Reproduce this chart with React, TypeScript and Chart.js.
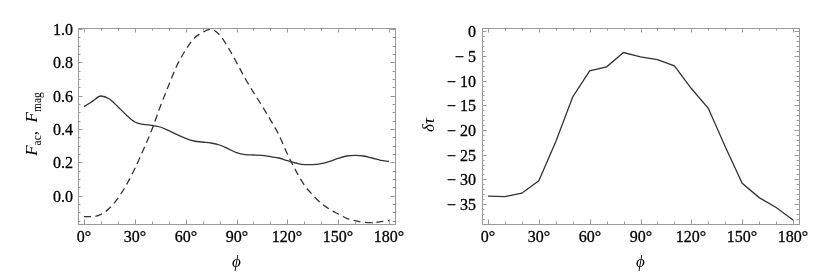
import React, { useEffect, useRef } from "react";
import { Chart, registerables } from "chart.js";
Chart.register(...registerables);

// ---------- data ----------
const phiFine = [0,5,10,15,20,25,30,35,40,45,50,55,60,65,70,75,80,85,90,95,100,105,110,115,120,125,130,135,140,145,150,155,160,165,170,175,180];
const fAcSolid = [0.534,0.566,0.598,0.58,0.534,0.484,0.442,0.428,0.422,0.412,0.39,0.366,0.344,0.328,0.322,0.316,0.304,0.282,0.258,0.246,0.244,0.242,0.234,0.226,0.21,0.196,0.186,0.186,0.192,0.206,0.224,0.238,0.242,0.238,0.226,0.212,0.206];
const fMagDashed = [-0.126,-0.126,-0.112,-0.076,-0.016,0.064,0.162,0.274,0.394,0.534,0.662,0.784,0.874,0.944,0.98,0.998,0.965,0.89,0.8,0.705,0.62,0.54,0.455,0.365,0.25,0.15,0.064,0.004,-0.046,-0.082,-0.11,-0.136,-0.15,-0.16,-0.162,-0.156,-0.15];

const phiCoarse = [0,10,20,30,40,50,60,70,80,90,100,110,120,130,140,150,160,170,180];
const deltaTau = [-33.4,-33.5,-32.8,-30.3,-22.4,-13.3,-8.0,-7.2,-4.3,-5.2,-5.75,-7.0,-11.6,-15.6,-23.4,-30.8,-33.7,-35.7,-38.25];

const xMajorTicks = [0,30,60,90,120,150,180];
const xMinorTicks = [10,20,40,50,70,80,100,110,130,140,160,170];
const leftYMajor = [0,0.2,0.4,0.6,0.8,1.0];
const leftYMinor = [-0.15,-0.1,-0.05,0.05,0.1,0.15,0.25,0.3,0.35,0.45,0.5,0.55,0.65,0.7,0.75,0.85,0.9,0.95];
const rightYMajor = [0,-5,-10,-15,-20,-25,-30,-35];
const rightYMinor = [-1,-2,-3,-4,-6,-7,-8,-9,-11,-12,-13,-14,-16,-17,-18,-19,-21,-22,-23,-24,-26,-27,-28,-29,-31,-32,-33,-34,-36,-37,-38,-39];

const SERIF = "'Liberation Serif', 'DejaVu Serif', serif";
const LINE = "#333333";
const FRAME = "#9a9a9a";
const TICK_SIZE = 16;

type TitlePiece = { t: string; size: number; italic?: boolean; dy?: number };

function drawPieces(ctx: CanvasRenderingContext2D, pieces: TitlePiece[], cx: number, cy: number, rotate: boolean) {
  ctx.save();
  ctx.translate(cx, cy);
  if (rotate) ctx.rotate(-Math.PI / 2);
  ctx.fillStyle = "#000";
  ctx.textBaseline = "alphabetic";
  ctx.textAlign = "left";
  const widths = pieces.map((p) => {
    ctx.font = `${p.italic ? "italic " : ""}${p.size}px ${SERIF}`;
    return ctx.measureText(p.t).width;
  });
  let x = -widths.reduce((a, b) => a + b, 0) / 2;
  pieces.forEach((p, i) => {
    ctx.font = `${p.italic ? "italic " : ""}${p.size}px ${SERIF}`;
    ctx.fillText(p.t, x, p.dy || 0);
    x += widths[i];
  });
  ctx.restore();
}

function drawLabel(ctx: CanvasRenderingContext2D, text: string, x: number, y: number) {
  ctx.fillText(text, x, y);
  ctx.strokeText(text, x, y);
}

function framePlugin(opts: {
  yMajor: number[];
  yMinor: number[];
  yTitle: TitlePiece[];
  yTitlePos: [number, number];
  yLabelGap: number;
}) {
  return {
    id: "frameTicks",
    afterDraw(chart: any) {
      const { ctx, chartArea } = chart;
      const { left, right, top, bottom } = chartArea;
      const xs = chart.scales.x;
      const ys = chart.scales.y;
      ctx.save();
      ctx.strokeStyle = FRAME;
      ctx.lineWidth = 1;
      ctx.strokeRect(Math.round(left) + 0.5, Math.round(top) + 0.5, Math.round(right - left), Math.round(bottom - top));
      ctx.beginPath();
      const major = 4.5;
      const minor = 2.5;
      const xt = (v: number, len: number) => {
        const px = Math.round(xs.getPixelForValue(v)) + 0.5;
        ctx.moveTo(px, bottom);
        ctx.lineTo(px, bottom - len);
        ctx.moveTo(px, top);
        ctx.lineTo(px, top + len);
      };
      const yt = (v: number, len: number) => {
        const py = Math.round(ys.getPixelForValue(v)) + 0.5;
        ctx.moveTo(left, py);
        ctx.lineTo(left + len, py);
        ctx.moveTo(right, py);
        ctx.lineTo(right - len, py);
      };
      xMajorTicks.forEach((v) => xt(v, major));
      xMinorTicks.forEach((v) => xt(v, minor));
      opts.yMajor.forEach((v) => yt(v, major));
      opts.yMinor.forEach((v) => yt(v, minor));
      ctx.stroke();
      ctx.restore();

      // tick labels taken from the library's own scale ticks
      ctx.save();
      ctx.fillStyle = "#000";
      ctx.strokeStyle = "#000";
      ctx.lineWidth = 0.3;
      ctx.font = `${TICK_SIZE}px ${SERIF}`;
      ctx.textAlign = "center";
      ctx.textBaseline = "alphabetic";
      xs.ticks.forEach((t: any) => {
        drawLabel(ctx, String(t.label), Math.round(xs.getPixelForValue(t.value)), Math.round(bottom) + 18);
      });
      ctx.textAlign = "right";
      ys.ticks.forEach((t: any) => {
        drawLabel(ctx, String(t.label), left - opts.yLabelGap, Math.round(ys.getPixelForValue(t.value)) + 6);
      });
      ctx.restore();

      drawPieces(ctx, [{ t: "\u03d5", size: 17, italic: true }], (left + right) / 2, 267, false);
      drawPieces(ctx, opts.yTitle, opts.yTitlePos[0], opts.yTitlePos[1], true);
    },
  };
}

function baseOptions(params: {
  yMin: number;
  yMax: number;
  yTicks: number[];
  yLabel: (v: number) => string;
  yWidth: number;
  rightPad: number;
}) {
  return {
    responsive: false,
    animation: false as const,
    events: [],
    layout: { padding: { top: 28, right: params.rightPad, bottom: 0, left: 0 } },
    plugins: { legend: { display: false }, tooltip: { enabled: false }, title: { display: false } },
    elements: { point: { radius: 0 } },
    scales: {
      x: {
        type: "linear" as const,
        min: -3.5,
        max: 183.5,
        grid: { display: false, drawTicks: false },
        border: { display: false },
        afterBuildTicks: (s: any) => {
          s.ticks = xMajorTicks.map((v) => ({ value: v }));
        },
        afterFit: (s: any) => {
          s.height = 54;
        },
        ticks: {
          autoSkip: false,
          maxRotation: 0,
          padding: 3,
          color: "rgba(0,0,0,0)",
          font: { family: SERIF, size: TICK_SIZE },
          callback: (v: any) => `${v}\u00b0`,
        },
      },
      y: {
        type: "linear" as const,
        min: params.yMin,
        max: params.yMax,
        grid: { display: false, drawTicks: false },
        border: { display: false },
        afterBuildTicks: (s: any) => {
          s.ticks = params.yTicks.map((v) => ({ value: v }));
        },
        afterFit: (s: any) => {
          s.width = params.yWidth;
        },
        ticks: {
          autoSkip: false,
          padding: 5,
          color: "rgba(0,0,0,0)",
          font: { family: SERIF, size: TICK_SIZE },
          callback: (v: any) => params.yLabel(Number(v)),
        },
      },
    },
  };
}

function LeftPanel() {
  const ref = useRef<HTMLCanvasElement | null>(null);
  useEffect(() => {
    if (!ref.current) return;
    const chart = new Chart(ref.current, {
      type: "line",
      data: {
        datasets: [
          {
            data: phiFine.map((x, i) => ({ x, y: fAcSolid[i] })),
            borderColor: LINE,
            borderWidth: 1.3,
            cubicInterpolationMode: "monotone",
            fill: false,
          },
          {
            data: phiFine.map((x, i) => ({ x, y: fMagDashed[i] })),
            borderColor: LINE,
            borderWidth: 1.3,
            borderDash: [7, 4.5],
            cubicInterpolationMode: "monotone",
            fill: false,
          },
        ],
      },
      options: baseOptions({
        yMin: -0.17,
        yMax: 1.006,
        yTicks: leftYMajor,
        yLabel: (v) => v.toFixed(1),
        yWidth: 78,
        rightPad: 20,
      }) as any,
      plugins: [
        framePlugin({
          yMajor: leftYMajor,
          yMinor: leftYMinor,
          yTitle: [
            { t: "F", size: 17, italic: true },
            { t: "ac", size: 11.5, dy: 4 },
            { t: ",  ", size: 17 },
            { t: "F", size: 17, italic: true },
            { t: "mag", size: 11.5, dy: 4 },
          ],
          yTitlePos: [37, 124],
          yLabelGap: 5,
        }) as any,
      ],
    });
    return () => chart.destroy();
  }, []);
  return <canvas ref={ref} width={415} height={278} style={{ display: "block", width: 415, height: 278 }} />;
}

function RightPanel() {
  const ref = useRef<HTMLCanvasElement | null>(null);
  useEffect(() => {
    if (!ref.current) return;
    const chart = new Chart(ref.current, {
      type: "line",
      data: {
        datasets: [
          {
            data: phiCoarse.map((x, i) => ({ x, y: deltaTau[i] })),
            borderColor: LINE,
            borderWidth: 1.3,
            tension: 0,
            fill: false,
          },
        ],
      },
      options: baseOptions({
        yMin: -39.05,
        yMax: 0.67,
        yTicks: rightYMajor,
        yLabel: (v) => (v === 0 ? "0" : "\u2212 " + Math.abs(v)),
        yWidth: 67,
        rightPad: 31,
      }) as any,
      plugins: [
        framePlugin({
          yMajor: rightYMajor,
          yMinor: rightYMinor,
          yTitle: [{ t: "\u03b4\u03c4", size: 17, italic: true }],
          yTitlePos: [19, 125],
          yLabelGap: 6,
        }) as any,
      ],
    });
    return () => chart.destroy();
  }, []);
  return <canvas ref={ref} width={415} height={278} style={{ display: "block", width: 415, height: 278 }} />;
}

export default function App() {
  return (
    <div style={{ position: "fixed", left: 0, top: 0, width: 830, height: 278, background: "#fff", display: "flex" }}>
      <LeftPanel />
      <RightPanel />
    </div>
  );
}
